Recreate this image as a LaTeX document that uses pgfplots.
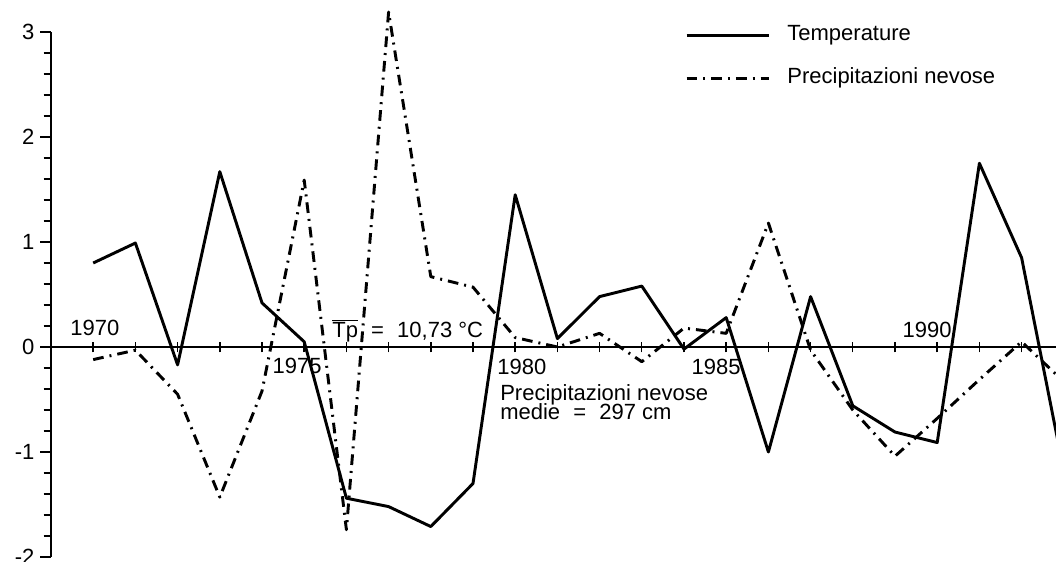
\documentclass[border=0pt]{standalone}
\usepackage{fontspec}
\setmainfont{Liberation Sans}
\usepackage{pgfplots}
\pgfplotsset{compat=1.18}
\newcommand{\lab}{\fontsize{16.5}{19.5}\selectfont}
\begin{document}
\begin{tikzpicture}
\path[use as bounding box, clip] (-38.25pt,-3pt) rectangle (753.75pt,417.75pt);
\begin{axis}[
  x=31.65pt, y=78.75pt,
  xmin=1969, xmax=1992.82, ymin=-2, ymax=3,
  clip=false,
  axis x line=middle, axis y line=left,
  axis line style={-, line width=1.3pt},
  xtick={1970,...,1992}, xticklabels={},
  xtick align=center,
  ytick={-2,-1,0,1,2,3}, yticklabels={-2,-1,0,1,2,3},
  ytick align=outside,
  minor y tick num=4,
  major tick length=8pt, minor tick length=5.5pt,
  tick style={line width=1.1pt, black},
  ticklabel style={font=\lab},
  yticklabel style={xshift=-1pt},
  legend image code/.code={\draw[#1] (0pt,0pt) -- (62pt,0pt);},
  legend style={at={(axis cs:1984.02,3.057)}, anchor=north west, draw=none, fill=none,
    font=\lab, inner sep=0pt, row sep=18pt,
    nodes={inner sep=0pt, text height=11pt, text depth=3pt}},
  legend cell align=left,
]
\addplot[black, line width=2.2pt, line join=round] coordinates {
(1970,0.80) (1971,0.99) (1972,-0.17) (1973,1.67) (1974,0.42) (1975,0.05)
(1976,-1.44) (1977,-1.52) (1978,-1.71) (1979,-1.30) (1980,1.45) (1981,0.08)
(1982,0.48) (1983,0.58) (1984,-0.02) (1985,0.28) (1986,-1.00) (1987,0.48)
(1988,-0.56) (1989,-0.81) (1990,-0.91) (1991,1.75) (1992,0.85) (1993,-1.18)
};
\addlegendentry{\hspace{12.5pt}Temperature}
\addplot[black, line width=2.2pt, line join=round, dash pattern=on 8pt off 4.5pt on 1.5pt off 4.5pt] coordinates {
(1970,-0.12) (1971,-0.03) (1972,-0.45) (1973,-1.43) (1974,-0.42) (1975,1.59)
(1976,-1.74) (1977,3.19) (1978,0.67) (1979,0.57) (1980,0.09) (1981,0.00)
(1982,0.13) (1983,-0.14) (1984,0.18) (1985,0.13) (1986,1.18) (1987,-0.03)
(1988,-0.60) (1989,-1.04) (1990,-0.68) (1991,-0.31) (1992,0.05) (1993,-0.33)
};
\addlegendentry{\hspace{12.5pt}Precipitazioni nevose}
\node[anchor=base, font=\lab] at (axis cs:1970.04,0.114) {1970};
\node[anchor=base, font=\lab] at (axis cs:1974.83,-0.25) {1975};
\node[anchor=base, font=\lab] at (axis cs:1980.16,-0.26) {1980};
\node[anchor=base, font=\lab] at (axis cs:1984.76,-0.26) {1985};
\node[anchor=base, font=\lab] at (axis cs:1989.76,0.086) {1990};
\node[anchor=base west, font=\lab, inner sep=0pt] at (axis cs:1975.66,0.095) {$\overline{\hbox{Tp}}$\hspace{0.6em}=\hspace{0.6em}10,73 °C};
\node[anchor=base west, font=\lab, inner sep=0pt] at (axis cs:1979.64,-0.505) {Precipitazioni nevose};
\node[anchor=base west, font=\lab, inner sep=0pt] at (axis cs:1979.64,-0.695) {medie\hspace{0.6em}=\hspace{0.6em}297 cm};
\end{axis}
\end{tikzpicture}
\end{document}
